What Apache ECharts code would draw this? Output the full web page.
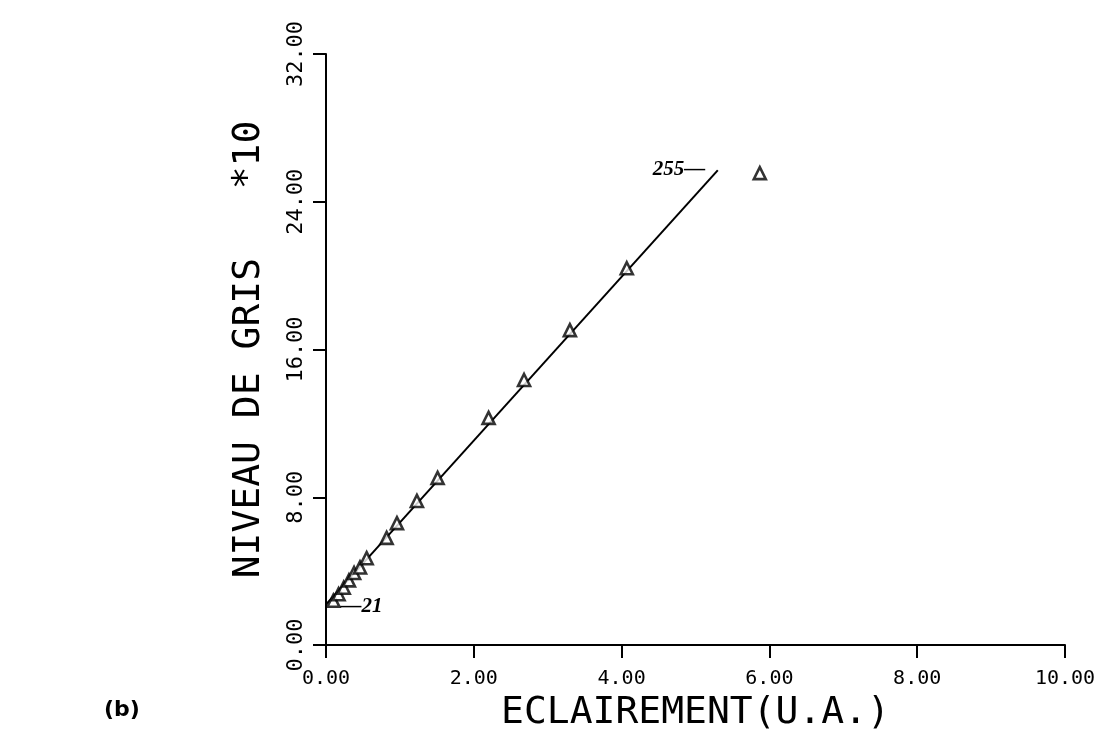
<!DOCTYPE html>
<html>
<head>
<meta charset="utf-8">
<title>Niveau de gris</title>
<script src="https://cdn.jsdelivr.net/npm/echarts/dist/echarts.min.js"></script>
<style>
  html, body { margin: 0; padding: 0; background: #fff; }
  #chart { width: 1105px; height: 741px; }
</style>
</head>
<body>
<div id="chart"></div>
<script>
// mesures (eclairement en U.A., niveau de gris / 10)
var eclairement = [0.10, 0.17, 0.24, 0.31, 0.38, 0.46, 0.55, 0.82, 0.96, 1.23, 1.51, 2.20, 2.68, 3.30, 4.07, 5.87];
var niveauGris = [2.40, 2.75, 3.10, 3.50, 3.90, 4.20, 4.70, 5.80, 6.60, 7.80, 9.05, 12.30, 14.35, 17.05, 20.40, 25.55];

// droite tracee a la main entre les niveaux 21 et 255
var droiteX = [0, 5.30];
var droiteY = [2.20, 25.70];
var droiteTxt = ['\u201421', '255\u2014'];

var xTicks = [0, 2, 4, 6, 8, 10];
var yTicks = [0, 8, 16, 24, 32];

var mono = 'DejaVu Sans Mono';

var points = eclairement.map(function(x, i) {
  return [x, niveauGris[i]];
});

var droite = droiteX.map(function(x, i) {
  return {
    value: [x, droiteY[i]],
    label: {
      show: true,
      formatter: droiteTxt[i],
      position: i === 0 ? 'right' : 'left',
      distance: i === 0 ? 14 : 12,
      offset: i === 0 ? [0, 2] : [0, -1]
    }
  };
});

var option = {
  backgroundColor: '#fff',
  animation: false,
  grid: {
    left: 326,
    right: 40,
    top: 54,
    bottom: 96,
    containLabel: false,
    outerBoundsMode: 'none'
  },
  xAxis: {
    type: 'value',
    min: xTicks[0],
    max: xTicks[xTicks.length - 1],
    interval: 2,
    name: 'ECLAIREMENT(U.A.)',
    nameLocation: 'middle',
    nameGap: 44,
    nameTextStyle: { fontFamily: mono, fontSize: 38, color: '#000' },
    axisLine: { lineStyle: { color: '#000', width: 2 } },
    axisTick: { show: true, inside: false, length: 13, lineStyle: { color: '#000', width: 2 } },
    axisLabel: {
      margin: 24,
      fontFamily: mono,
      fontSize: 20,
      color: '#000',
      formatter: function(v) { return v.toFixed(2); }
    },
    splitLine: { show: false }
  },
  yAxis: {
    type: 'value',
    min: yTicks[0],
    max: yTicks[yTicks.length - 1],
    interval: 8,
    name: 'NIVEAU DE GRIS   *10',
    nameLocation: 'middle',
    nameGap: 58,
    nameTextStyle: { fontFamily: mono, fontSize: 38, color: '#000' },
    axisLine: { show: true, lineStyle: { color: '#000', width: 2 } },
    axisTick: { show: true, inside: false, length: 13, lineStyle: { color: '#000', width: 2 } },
    axisLabel: {
      rotate: 90,
      margin: 19,
      fontFamily: mono,
      fontSize: 22,
      color: '#000',
      formatter: function(v) { return v.toFixed(2); }
    },
    splitLine: { show: false }
  },
  graphic: [
    {
      type: 'text',
      left: 104,
      top: 699,
      style: {
        text: '(b)',
        font: 'bold 22px "DejaVu Sans"',
        fill: '#000'
      }
    }
  ],
  series: [
    {
      type: 'line',
      data: droite,
      symbol: 'circle',
      symbolSize: 1,
      showSymbol: true,
      lineStyle: { color: '#000', width: 2 },
      itemStyle: { color: '#000' },
      label: {
        color: '#000',
        fontFamily: 'Liberation Serif',
        fontStyle: 'italic',
        fontWeight: 'bold',
        fontSize: 21
      },
      z: 2
    },
    {
      type: 'scatter',
      data: points,
      symbol: 'triangle',
      symbolSize: 12,
      itemStyle: { color: '#fff', borderColor: '#000', borderWidth: 2.6 },
      z: 3
    }
  ]
};

var chart = echarts.init(document.getElementById('chart'));
chart.setOption(option);
</script>
</body>
</html>
